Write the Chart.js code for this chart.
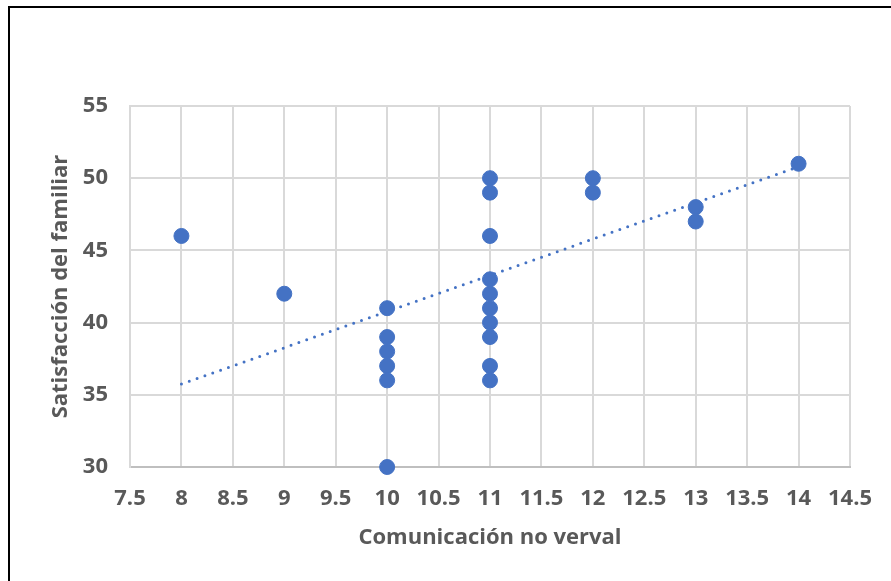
<!DOCTYPE html>
<html>
<head>
<meta charset="utf-8">
<script src="https://cdn.jsdelivr.net/npm/chart.js@4/dist/chart.umd.min.js"></script>
<style>
  html, body { margin: 0; padding: 0; background: #ffffff; overflow: hidden; }
  #wrap { position: relative; width: 891px; height: 581px; }
  #frame { position: absolute; left: 8px; top: 6px; width: 1000px; height: 1000px;
           border: 2px solid #000; box-sizing: border-box; pointer-events: none; }
  canvas { position: absolute; left: 0; top: 0; }
</style>
</head>
<body>
<div id="wrap">
  <canvas id="c" width="891" height="581"></canvas>
  <div id="frame"></div>
</div>
<script>
// Data
const xValues = [8, 9, 10, 10, 10, 10, 10, 10, 11, 11, 11, 11, 11, 11, 11, 11, 11, 11, 12, 12, 13, 13, 14];
const yValues = [46, 42, 41, 39, 38, 37, 36, 30, 50, 49, 46, 43, 42, 41, 40, 39, 37, 36, 50, 49, 48, 47, 51];
const trendX = [8, 14];
const trendY = [35.75, 50.8];
const xTicks = [7.5, 8, 8.5, 9, 9.5, 10, 10.5, 11, 11.5, 12, 12.5, 13, 13.5, 14, 14.5];
const yTicks = [30, 35, 40, 45, 50, 55];
const xTitle = 'Comunicación no verval';
const yTitle = 'Satisfacción del familiar';

const blue = '#4472C4';
const textGrey = '#595959';
const fontFamily = '"Open Sans", Lato, sans-serif';

const points = xValues.map((x, i) => ({ x: x, y: yValues[i] }));
const trend = trendX.map((x, i) => ({ x: x, y: trendY[i] }));

new Chart(document.getElementById('c'), {
  type: 'scatter',
  data: {
    datasets: [
      {
        label: 'Datos',
        data: points,
        backgroundColor: blue,
        borderColor: blue,
        borderWidth: 1,
        pointRadius: 7.5,
        clip: false,
        order: 1
      },
      {
        type: 'line',
        label: 'Tendencia',
        data: trend,
        showLine: true,
        borderColor: blue,
        borderWidth: 3,
        borderDash: [0, 8.3],
        borderCapStyle: 'round',
        pointRadius: 0,
        fill: false,
        order: 2
      }
    ]
  },
  options: {
    responsive: false,
    animation: false,
    layout: { padding: { left: 0, top: 106, right: 37, bottom: 0 } },
    plugins: { legend: { display: false }, tooltip: { enabled: false } },
    scales: {
      x: {
        type: 'linear',
        min: xTicks[0],
        max: xTicks[xTicks.length - 1],
        afterBuildTicks: s => { s.ticks = xTicks.map(v => ({ value: v })); },
        afterFit: s => { s.height = 114; },
        grid: { color: '#d9d9d9', lineWidth: 2, drawTicks: false },
        border: { color: '#bfbfbf', width: 2 },
        ticks: {
          padding: 19,
          maxRotation: 0,
          autoSkip: false,
          color: textGrey,
          font: { family: fontFamily, size: 22, weight: 'bold' },
          callback: v => String(v)
        },
        title: {
          display: true,
          text: xTitle,
          color: textGrey,
          font: { family: fontFamily, size: 22, weight: 'bold' },
          padding: { top: 0, bottom: 30 }
        }
      },
      y: {
        type: 'linear',
        min: yTicks[0],
        max: yTicks[yTicks.length - 1],
        afterBuildTicks: s => { s.ticks = yTicks.map(v => ({ value: v })); },
        afterFit: s => { s.width = 130; },
        grid: { color: '#d9d9d9', lineWidth: 2, drawTicks: false },
        border: { color: '#d9d9d9', width: 2 },
        ticks: {
          padding: 22,
          color: textGrey,
          font: { family: fontFamily, size: 22, weight: 'bold' },
          callback: v => String(v)
        },
        title: {
          display: true,
          text: yTitle,
          color: textGrey,
          font: { family: fontFamily, size: 22, weight: 'bold' },
          padding: { top: 48, bottom: 0 }
        }
      }
    }
  }
});
</script>
</body>
</html>
